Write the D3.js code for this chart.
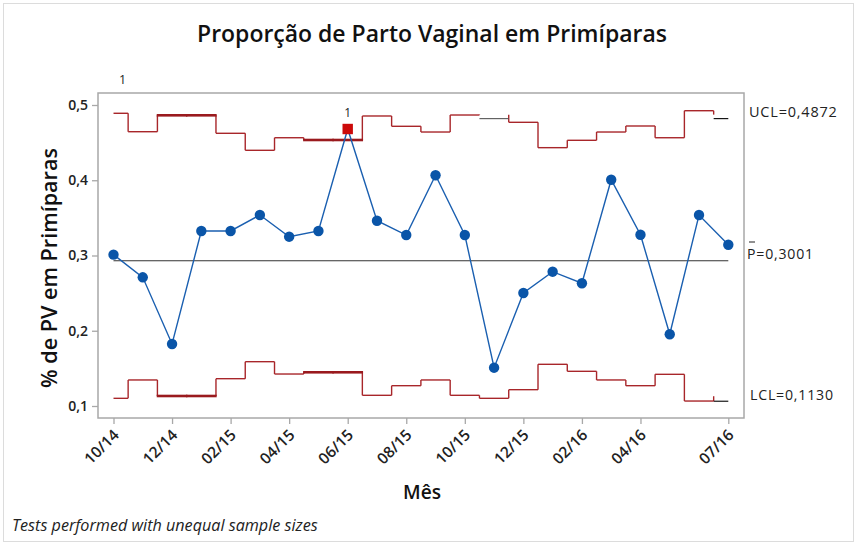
<!DOCTYPE html>
<html>
<head>
<meta charset="utf-8">
<script src="https://cdn.jsdelivr.net/npm/d3@7/dist/d3.min.js"></script>
<style>
  html, body { margin: 0; padding: 0; background: #fff; }
  svg { display: block; font-family: "Open Sans", "Noto Sans", "DejaVu Sans", sans-serif; }
</style>
</head>
<body>
<svg id="chart" width="860" height="545"></svg>
<script>
// ---------------- DATA ----------------
const months = ["10/14","11/14","12/14","01/15","02/15","03/15","04/15","05/15","06/15","07/15","08/15",
                "09/15","10/15","11/15","12/15","01/16","02/16","03/16","04/16","05/16","06/16","07/16"];
const proportion = [0.3011,0.2710,0.1824,0.3326,0.3326,0.3538,0.3250,0.3326,0.4681,0.3462,0.3272,
                    0.4066,0.3272,0.1509,0.2502,0.2785,0.2631,0.4007,0.3276,0.1953,0.3538,0.3143];
const ucl = [0.4890,0.4645,0.4863,0.4863,0.4624,0.4398,0.4565,0.4535,0.4535,0.4854,0.4717,
             0.4641,0.4867,0.4872,0.4770,0.4433,0.4531,0.4641,0.4721,0.4565,0.4924,0.4872];
const lcl = [0.1102,0.1346,0.1133,0.1133,0.1363,0.1589,0.1425,0.1448,0.1448,0.1142,0.1270,
             0.1346,0.1142,0.1102,0.1217,0.1554,0.1461,0.1346,0.1270,0.1421,0.1066,0.1130];
const pBar = 0.3001;
const uclLast = 0.4872;
const lclLast = 0.1130;
const yTicks = [0.1, 0.2, 0.3, 0.4, 0.5];
const xTickIndex = [0, 2, 4, 6, 8, 10, 12, 14, 16, 18, 21];
const failedTest1 = [8];          // subgroup index failing test 1
const title = "Proporção de Parto Vaginal em Primíparas";
const yTitle = "% de PV em Primíparas";
const xTitle = "Mês";
const footnote = "Tests performed with unequal sample sizes";

// ---------------- LAYOUT ----------------
const svg = d3.select("#chart");
const frame = { left: 98, top: 93, right: 744, bottom: 418 };
const x = d3.scaleLinear().domain([0, months.length - 1]).range([113.5, 728.3]);
const y = d3.scaleLinear().domain([0.1, 0.5]).range([406, 105]);
const n = months.length;
const RED = "#a8262a";
const BLUE = "#0a55a8";

function fit(sel, base, target) {
  const w = sel.node().getComputedTextLength();
  if (w > 0) sel.attr("font-size", base * target / w);
  return sel;
}

// outer border
svg.append("rect").attr("x", 3.5).attr("y", 3.5).attr("width", 850).attr("height", 538)
  .attr("fill", "none").attr("stroke", "#dcdcdc").attr("stroke-width", 1);

// title
fit(svg.append("text").attr("x", 432).attr("y", 42).attr("text-anchor", "middle")
  .attr("font-size", 21).attr("font-weight", 600).attr("fill", "#111").text(title), 21, 470);

// frame
svg.append("rect").attr("x", frame.left).attr("y", frame.top)
  .attr("width", frame.right - frame.left).attr("height", frame.bottom - frame.top)
  .attr("fill", "none").attr("stroke", "#a8a8a8").attr("stroke-width", 1.5);

// y axis
const gy = svg.append("g").attr("transform", `translate(${frame.left},0)`)
  .call(d3.axisLeft(y).tickValues(yTicks).tickSize(6).tickPadding(4)
    .tickFormat(d => d.toFixed(1).replace(".", ",")));
gy.select(".domain").remove();
gy.selectAll(".tick line").attr("stroke", "#a8a8a8").attr("stroke-width", 1.3);
gy.selectAll(".tick text").attr("font-size", 14).attr("fill", "#222")
  .attr("font-family", "'Open Sans', sans-serif").attr("font-weight", 600);

// x axis
const gx = svg.append("g").attr("transform", `translate(0,${frame.bottom})`)
  .call(d3.axisBottom(x).tickValues(xTickIndex).tickSize(6).tickFormat(i => months[i]));
gx.select(".domain").remove();
gx.selectAll(".tick line").attr("stroke", "#a8a8a8").attr("stroke-width", 1.3);
gx.selectAll(".tick text").attr("font-size", 15.5).attr("fill", "#222")
  .attr("font-family", "'Open Sans', sans-serif").attr("font-weight", 600)
  .attr("text-anchor", "end").attr("dy", null).attr("y", 0)
  .attr("transform", "translate(6,18) rotate(-45)");

// axis titles
fit(svg.append("text").attr("transform", "translate(57,268) rotate(-90)")
  .attr("text-anchor", "middle").attr("font-size", 20).attr("font-weight", 600)
  .attr("fill", "#111").text(yTitle), 20, 240);
fit(svg.append("text").attr("x", 422).attr("y", 499).attr("text-anchor", "middle")
  .attr("font-size", 19).attr("font-weight", 600).attr("fill", "#111").text(xTitle), 19, 38);
fit(svg.append("text").attr("x", 12).attr("y", 531).attr("font-size", 14)
  .attr("font-style", "italic").attr("fill", "#222").text(footnote), 14, 306);

// step limit lines
function segX0(i) { return i === 0 ? x(0) : x(i - 0.5); }
function segX1(i) { return i === n - 1 ? x(n - 1) : x(i + 0.5); }

function drawLimits(vals, lastVal, markerDy) {
  const g = svg.append("g");
  for (let i = 0; i < n - 1; i++) {
    g.append("line").attr("x1", x(i + 0.5)).attr("x2", x(i + 0.5))
      .attr("y1", y(vals[i])).attr("y2", y(vals[i + 1]))
      .attr("stroke", RED).attr("stroke-width", 1.4);
  }
  for (let i = 0; i < n; i++) {
    if (vals[i] === lastVal) {
      g.append("line").attr("x1", segX0(i)).attr("x2", segX1(i))
        .attr("y1", y(vals[i]) + markerDy).attr("y2", y(vals[i]) + markerDy)
        .attr("stroke", i === n - 1 ? "#000" : "#555").attr("stroke-width", 1.1);
      continue;
    }
    const same = (i > 0 && vals[i - 1] === vals[i]) || (i < n - 1 && vals[i + 1] === vals[i]);
    g.append("line").attr("x1", segX0(i) - (same ? 0.7 : 0)).attr("x2", segX1(i) + (same ? 0.7 : 0))
      .attr("y1", y(vals[i])).attr("y2", y(vals[i]))
      .attr("stroke", same ? "#9a1a1e" : RED).attr("stroke-width", same ? 2.6 : 1.4);
  }
}
drawLimits(ucl, uclLast, 4);
drawLimits(lcl, lclLast, 5);

// center line
svg.append("line").attr("x1", x(0)).attr("x2", x(n - 1))
  .attr("y1", y(pBar) + 5.4).attr("y2", y(pBar) + 5.4)
  .attr("stroke", "#333").attr("stroke-width", 1.1);

// data line
svg.append("path").datum(proportion)
  .attr("d", d3.line().x((d, i) => x(i)).y(d => y(d)))
  .attr("fill", "none").attr("stroke", "#1a5fb0").attr("stroke-width", 1.4);

// points
svg.append("g").selectAll("circle")
  .data(proportion.map((v, i) => ({ v, i })).filter(d => !failedTest1.includes(d.i)))
  .join("circle").attr("cx", d => x(d.i)).attr("cy", d => y(d.v)).attr("r", 5.2)
  .attr("fill", BLUE);
svg.append("g").selectAll("rect")
  .data(failedTest1).join("rect")
  .attr("x", i => x(i) - 5.2).attr("y", i => y(proportion[i]) - 5.2)
  .attr("width", 10.4).attr("height", 10.4).attr("fill", "#cc0a0a");
svg.append("g").selectAll("text")
  .data(failedTest1).join("text")
  .attr("x", i => x(i)).attr("y", i => y(proportion[i]) - 12)
  .attr("text-anchor", "middle").attr("font-size", 12).attr("fill", "#222").text("1");
// test-label marker above plot
svg.append("text").attr("x", x(0) + 9).attr("y", 84).attr("text-anchor", "middle")
  .attr("font-size", 12.5).attr("fill", "#222").text("1");

// right-side labels
const lab = svg.append("g").attr("fill", "#222");
fit(lab.append("text").attr("x", 749).attr("y", 117).attr("font-size", 14).attr("letter-spacing", 0.8)
  .text("UCL=" + uclLast.toFixed(4).replace(".", ",")), 14, 89);
fit(lab.append("text").attr("x", 747).attr("y", 259).attr("font-size", 14).attr("letter-spacing", 0.8)
  .text("P=" + pBar.toFixed(4).replace(".", ",")), 14, 67);
lab.append("line").attr("x1", 749).attr("x2", 755).attr("y1", 242).attr("y2", 242)
  .attr("stroke", "#222").attr("stroke-width", 1);
fit(lab.append("text").attr("x", 750).attr("y", 400).attr("font-size", 14).attr("letter-spacing", 0.8)
  .text("LCL=" + lclLast.toFixed(4).replace(".", ",")), 14, 84);
</script>
</body>
</html>
